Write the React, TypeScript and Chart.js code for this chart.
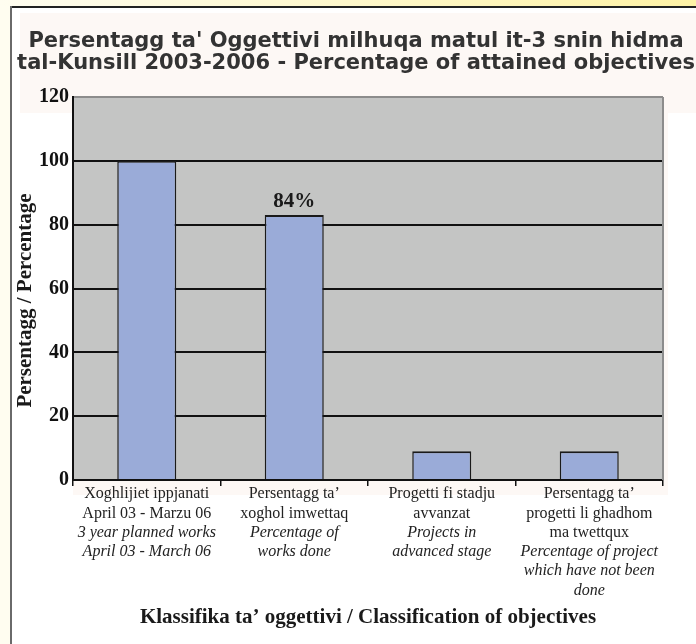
import React, { useEffect, useRef } from "react";
import { Chart, registerables } from "chart.js";

Chart.register(...registerables);

const titleLines = [
  "Persentagg ta' Oggettivi milhuqa matul it-3 snin hidma",
  "tal-Kunsill 2003-2006 - Percentage of attained objectives",
];
const categoriesMt = [
  ["Xoghlijiet ippjanati", "April 03 - Marzu 06"],
  ["Persentagg ta’", "xoghol imwettaq"],
  ["Progetti fi stadju", "avvanzat"],
  ["Persentagg ta’", "progetti li ghadhom", "ma twettqux"],
];
const categoriesEn = [
  ["3 year planned works", "April 03 - March 06"],
  ["Percentage of", "works done"],
  ["Projects in", "advanced stage"],
  ["Percentage of project", "which have not been", "done"],
];
const values = [100, 83, 9, 9];
const valueLabels = ["", "84%", "", ""];
const yMin = 0;
const yMax = 120;
const yStep = 20;
const yAxisTitle = "Persentagg / Percentage";
const xAxisTitle = "Klassifika ta’ oggettivi / Classification of objectives";

const SERIF = "'Liberation Serif', 'Times New Roman', serif";

const decorPlugin = {
  id: "decor",
  beforeDraw(chart: any) {
    const { ctx, chartArea: a } = chart;
    ctx.save();
    ctx.fillStyle = "#c4c5c4";
    ctx.fillRect(a.left, a.top, a.right - a.left, a.bottom - a.top);
    ctx.restore();
  },
  afterDraw(chart: any) {
    const { ctx, chartArea: a } = chart;
    ctx.save();
    ctx.strokeStyle = "#8c8c8c";
    ctx.lineWidth = 2;
    ctx.beginPath();
    ctx.moveTo(a.right, a.top);
    ctx.lineTo(a.right, a.bottom);
    ctx.stroke();

    ctx.textAlign = "center";
    ctx.textBaseline = "middle";
    ctx.fillStyle = "#333333";
    ctx.font = "bold 21px 'DejaVu Sans'";
    titleLines.forEach((t, i) => ctx.fillText(t, 356, 42 + i * 22));

    // y-axis title (sits slightly below the plot centre in the reference)
    ctx.save();
    ctx.fillStyle = "#1a1a1a";
    ctx.font = "bold 21px " + SERIF;
    ctx.translate(26, (a.top + a.bottom) / 2 + 12);
    ctx.rotate(-Math.PI / 2);
    ctx.fillText(yAxisTitle, 0, 0);
    ctx.restore();

    const xs = chart.scales.x;
    ctx.fillStyle = "#222222";
    categoriesMt.forEach((mt, i) => {
      const x = xs.getPixelForValue(i);
      const lines = [
        ...mt.map((t) => ({ t, it: false })),
        ...categoriesEn[i].map((t) => ({ t, it: true })),
      ];
      lines.forEach((l, j) => {
        ctx.font = (l.it ? "italic " : "") + "16px " + SERIF;
        ctx.fillText(l.t, x, a.bottom + 14 + j * 19.3);
      });
    });

    const meta = chart.getDatasetMeta(0);
    ctx.font = "bold 21px " + SERIF;
    ctx.fillStyle = "#1a1a1a";
    valueLabels.forEach((lab, i) => {
      if (!lab) return;
      const el = meta.data[i];
      ctx.fillText(lab, el.x, el.y - 14);
    });
    ctx.restore();
  },
};

function ChartCanvas() {
  const ref = useRef<HTMLCanvasElement | null>(null);
  useEffect(() => {
    if (!ref.current) return;
    const chart = new Chart(ref.current, {
      type: "bar",
      data: {
        labels: categoriesMt.map((l) => l.join(" ")),
        datasets: [
          {
            data: values,
            backgroundColor: "#9aabd8",
            borderColor: "#1a1a1a",
            borderWidth: { top: 2, left: 1.5, right: 1.5, bottom: 0 },
            barPercentage: 0.4,
            categoryPercentage: 1,
          },
        ],
      },
      options: {
        responsive: false,
        animation: false,
        devicePixelRatio: 1,
        layout: { padding: { top: 97, right: 33, bottom: 0, left: 0 } },
        plugins: {
          legend: { display: false },
          title: { display: false },
          tooltip: { enabled: false },
        },
        scales: {
          x: {
            afterFit: (s: any) => {
              s.height = 164;
            },
            ticks: { display: false },
            grid: {
              display: true,
              drawOnChartArea: false,
              drawTicks: true,
              tickLength: 6,
              color: "#111111",
              lineWidth: 1.5,
            },
            border: { display: true, color: "#111111", width: 2 },
            title: {
              display: true,
              text: xAxisTitle,
              color: "#1a1a1a",
              font: { family: SERIF, size: 21, weight: "bold", lineHeight: 1.2 },
              padding: { top: 0, bottom: 13.4 },
            },
          },
          y: {
            min: yMin,
            max: yMax,
            afterFit: (s: any) => {
              s.width = 73;
            },
            ticks: {
              stepSize: yStep,
              padding: 4,
              color: "#111111",
              font: { family: SERIF, size: 20, weight: "bold" },
            },
            grid: {
              drawTicks: false,
              lineWidth: 2,
              color: (c: any) =>
                c.tick && c.tick.value === yMax ? "#8c8c8c" : "#111111",
            },
            border: { display: true, color: "#111111", width: 2 },
            title: { display: false },
          },
        },
      },
      plugins: [decorPlugin],
    } as any);
    return () => chart.destroy();
  }, []);
  return (
    <canvas
      ref={ref}
      width={696}
      height={644}
      style={{ position: "absolute", left: 0, top: 0, width: 696, height: 644 }}
    />
  );
}

export default function App() {
  const box = (s: React.CSSProperties): React.CSSProperties => ({ position: "absolute", ...s });
  return (
    <div
      style={{
        position: "absolute",
        left: 0,
        top: 0,
        width: 696,
        height: 644,
        background: "#ffffff",
        overflow: "hidden",
      }}
    >
      <div style={box({ left: 0, top: 0, width: 10, height: 644, background: "#fffdf0" })} />
      <div
        style={box({
          left: 0,
          top: 0,
          width: 696,
          height: 6,
          background: "linear-gradient(to right, #fffdf0, #fff3a6)",
        })}
      />
      <div style={box({ left: 20, top: 13, width: 676, height: 100, background: "#fdf8f5" })} />
      <div style={box({ left: 73, top: 113, width: 595, height: 382, background: "#fdf8f5" })} />
      <div style={box({ left: 10, top: 6, width: 686, height: 2, background: "#222222" })} />
      <div style={box({ left: 10, top: 6, width: 2, height: 638, background: "#6a6a6a" })} />
      <ChartCanvas />
    </div>
  );
}
